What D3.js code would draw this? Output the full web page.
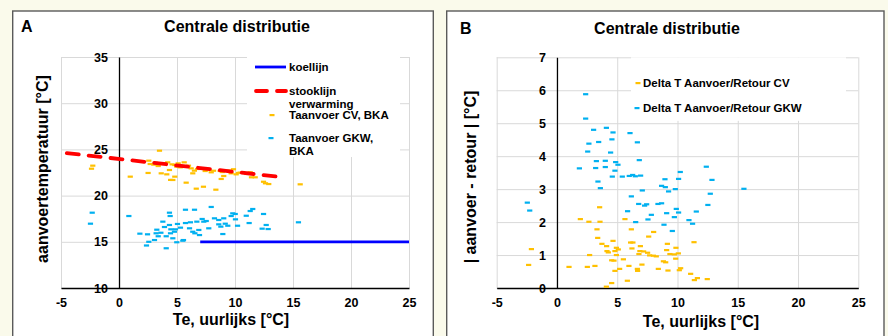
<!DOCTYPE html>
<html>
<head>
<meta charset="utf-8">
<script src="https://cdn.jsdelivr.net/npm/d3@7"></script>
<style>
    body { margin: 0; background: #fafaeb; }
    svg { display: block; font-family: "Liberation Sans", Arial, sans-serif; font-weight: bold; }
    .grid line { stroke: #d9d9d9; stroke-width: 1; }
    .grid path { display: none; }
    .axis path { stroke: #000; stroke-width: 1.3; }
    .axis text { font-size: 12.5px; font-weight: bold; fill: #000; font-family: "Liberation Sans", Arial, sans-serif; }
</style>
</head>
<body>
<div id="chart"></div>
<script>
// x ticks (Te, hourly) shared by both panels
var xTicks = [-5, 0, 5, 10, 15, 20, 25];
var yTicksA = [10, 15, 20, 25, 30, 35];
var yTicksB = [0, 1, 2, 3, 4, 5, 6, 7];

// panel A: supply temperature vs outdoor temperature
var koellijn = [[7, 15], [25, 15]];
var stooklijn = [[-4.5, 24.6], [14, 22.0]];

var aanvoerCV = [
    [-2.26, 23.24], [-2.37, 22.91], [0.97, 22.05], [1.88, 23.74], [2.57, 23.78], [2.69, 23.42],
    [2.51, 22.45], [3.12, 23.56], [3.38, 23.20], [3.49, 24.86], [3.64, 23.49], [3.64, 22.41],
    [4.12, 22.30], [4.35, 22.77], [4.58, 23.38], [4.81, 23.31], [4.98, 23.13], [4.81, 22.05],
    [4.64, 21.69], [4.45, 21.70], [5.10, 23.49], [5.28, 23.06], [5.62, 23.60], [5.79, 21.40],
    [5.99, 23.24], [6.22, 22.95], [6.36, 22.41], [6.66, 20.75], [7.28, 20.96], [6.77, 22.88],
    [7.09, 22.95], [7.43, 22.66], [7.72, 22.85], [7.95, 22.52], [8.35, 20.64], [8.15, 22.69],
    [8.72, 22.66], [8.81, 21.80], [9.03, 22.12], [9.29, 22.69], [9.67, 22.41], [9.87, 22.85],
    [10.10, 22.30], [10.45, 22.48], [11.02, 22.34], [11.31, 22.52], [11.42, 21.98], [11.74, 21.98],
    [12.46, 21.50], [12.63, 21.33], [12.91, 21.25], [15.62, 21.22], [3.0, 23.35], [4.2, 23.6],
    [5.4, 23.2], [6.5, 22.7], [8.9, 22.55], [9.5, 22.7], [10.3, 22.45]
];

var aanvoerGKW = [
    [-2.31, 18.15], [-2.46, 16.96], [0.85, 17.79], [1.80, 15.88], [2.46, 15.81], [2.37, 14.60],
    [2.57, 15.00], [3.06, 15.19], [3.20, 15.92], [3.26, 16.31], [3.38, 15.60], [3.61, 15.98],
    [3.78, 17.18], [3.92, 16.60], [4.07, 15.60], [4.07, 14.30], [4.35, 18.15], [4.41, 17.79],
    [4.35, 16.82], [4.47, 16.35], [4.44, 15.92], [4.64, 15.38], [4.78, 16.09], [4.87, 16.35],
    [5.04, 16.93], [4.98, 14.95], [5.30, 16.53], [5.56, 15.19], [5.73, 18.47], [5.73, 17.03],
    [6.08, 16.46], [6.16, 17.11], [6.36, 16.09], [6.51, 18.47], [6.54, 15.92], [6.71, 17.18],
    [6.88, 16.28], [6.94, 15.73], [7.17, 17.47], [7.31, 17.18], [7.52, 17.25], [7.74, 16.46],
    [7.95, 18.77], [8.23, 17.54], [8.60, 16.89], [8.60, 17.36], [8.78, 16.64], [8.95, 15.84],
    [9.03, 17.54], [9.16, 16.96], [9.38, 16.74], [9.67, 17.79], [9.81, 18.08], [10.02, 18.01],
    [10.04, 17.43], [10.22, 16.74], [10.97, 17.82], [11.22, 17.03], [11.31, 18.33], [11.53, 18.55],
    [12.46, 18.01], [12.34, 16.42], [12.69, 16.82], [12.86, 16.38], [15.47, 17.11], [5.5, 15.12]
];

// panel B: |supply - return| vs outdoor temperature
var deltaCV = [
    [3.54, 2.45], [1.94, 2.09], [2.65, 2.01], [3.57, 2.01], [5.64, 2.09], [3.32, 1.78],
    [6.17, 1.78], [8.02, 1.70], [3.38, 1.52], [7.61, 1.56], [3.73, 1.34], [4.65, 1.43],
    [4.12, 1.27], [6.30, 1.38], [6.11, 1.38], [6.92, 1.27], [9.16, 1.34], [-2.12, 1.18],
    [4.15, 1.12], [4.26, 1.08], [4.81, 1.12], [4.93, 1.22], [5.09, 1.17], [6.22, 1.20],
    [6.88, 1.12], [7.19, 1.11], [7.52, 1.07], [7.69, 0.99], [8.00, 0.98], [8.24, 0.96],
    [9.10, 1.15], [9.87, 1.22], [9.37, 1.03], [9.74, 1.02], [10.07, 1.05], [9.85, 0.89],
    [6.80, 1.03], [2.71, 1.00], [4.93, 1.00], [-2.35, 0.70], [4.54, 0.84], [4.73, 0.83],
    [5.51, 0.87], [8.83, 0.81], [9.02, 0.78], [1.00, 0.64], [2.52, 0.64], [3.15, 0.67],
    [5.97, 0.67], [7.05, 0.71], [8.41, 0.58], [9.21, 0.53], [5.20, 0.58], [4.81, 0.52],
    [6.67, 0.58], [6.69, 0.52], [10.15, 0.54], [10.26, 0.60], [5.84, 0.22], [4.54, 0.15],
    [4.10, 0.04], [11.37, 1.39], [11.09, 0.43], [11.65, 0.30], [11.40, 0.24], [12.47, 0.27]
];

var deltaGKW = [
    [2.38, 5.88], [2.38, 5.14], [3.04, 4.80], [4.10, 4.86], [4.65, 4.72], [6.06, 4.70],
    [2.65, 4.38], [3.46, 4.43], [4.56, 4.51], [6.67, 4.42], [2.55, 4.14], [4.45, 4.11],
    [3.27, 3.85], [4.01, 3.86], [4.87, 3.82], [5.06, 3.74], [6.83, 3.88], [1.86, 3.63],
    [3.21, 3.64], [4.01, 3.67], [4.81, 3.56], [4.59, 3.38], [5.42, 3.38], [6.00, 3.40],
    [6.28, 3.43], [6.50, 3.39], [6.94, 3.41], [10.23, 3.52], [3.40, 3.23], [3.60, 3.03],
    [7.08, 2.96], [8.96, 3.30], [10.09, 3.31], [8.68, 3.10], [8.99, 3.06], [9.26, 2.93],
    [9.82, 3.00], [6.17, 2.78], [-2.46, 2.59], [-2.26, 2.35], [5.86, 2.33], [6.78, 2.55],
    [7.27, 2.50], [7.44, 2.54], [8.38, 2.55], [8.68, 2.57], [7.83, 2.22], [7.55, 2.08],
    [9.10, 2.27], [9.90, 2.40], [10.09, 2.29], [9.74, 2.15], [6.53, 2.00], [8.88, 1.92],
    [9.57, 1.73], [10.95, 2.06], [11.25, 1.95], [12.39, 3.68], [12.86, 3.28], [15.51, 3.01],
    [12.72, 2.86], [12.52, 2.52], [11.56, 2.32]
];

var orange = '#ffc000';
var blue = '#00b0f0';
var plain = function (d) { return String(d); };

var svg = d3.select('#chart').append('svg')
    .attr('width', 888)
    .attr('height', 336);

// panel frames
svg.append('rect').attr('x', 12.7).attr('y', 11).attr('width', 420.6).attr('height', 340)
    .attr('fill', '#fff').attr('stroke', '#5a5a5a').attr('stroke-width', 1.4);
svg.append('rect').attr('x', 446.7).attr('y', 11).attr('width', 437.3).attr('height', 340)
    .attr('fill', '#fff').attr('stroke', '#5a5a5a').attr('stroke-width', 1.4);

function drawPanel(cfg) {
    var x = d3.scaleLinear().domain([-5, 25]).range([cfg.left, cfg.right]);
    var y = d3.scaleLinear().domain(cfg.yDomain).range([cfg.bottom, cfg.top]);
    var g = svg.append('g');

    // gridlines
    g.append('g').attr('class', 'grid')
        .attr('transform', 'translate(0,' + cfg.bottom + ')')
        .call(d3.axisBottom(x).tickValues(xTicks).tickSize(-(cfg.bottom - cfg.top)).tickFormat(''));
    g.append('g').attr('class', 'grid')
        .attr('transform', 'translate(' + cfg.left + ',0)')
        .call(d3.axisLeft(y).tickValues(cfg.yTicks).tickSize(-(cfg.right - cfg.left)).tickFormat(''));

    // legend background hides the grid
    g.append('rect')
        .attr('x', cfg.legend.x).attr('y', cfg.legend.y)
        .attr('width', cfg.legend.w).attr('height', cfg.legend.h)
        .attr('fill', '#fff');

    // axes crossing at x = 0
    g.append('g').attr('class', 'axis')
        .attr('transform', 'translate(' + x(0) + ',0)')
        .call(d3.axisLeft(y).tickValues(cfg.yTicks).tickFormat(plain)
            .tickSize(0).tickSizeOuter(0).tickPadding(11));
    g.append('g').attr('class', 'axis')
        .attr('transform', 'translate(0,' + cfg.bottom + ')')
        .call(d3.axisBottom(x).tickValues(xTicks).tickFormat(plain)
            .tickSize(0).tickSizeOuter(0).tickPadding(10.5));

    // titles
    g.append('text').attr('x', cfg.letterX).attr('y', cfg.titleY)
        .style('font-size', '16px').text(cfg.letter);
    g.append('text').attr('x', cfg.titleX).attr('y', cfg.titleY)
        .attr('text-anchor', 'middle').style('font-size', '16px').text('Centrale distributie');
    g.append('text').attr('x', cfg.xLabelX).attr('y', cfg.xLabelY)
        .attr('text-anchor', 'middle').style('font-size', '16px').text('Te, uurlijks [°C]');
    g.append('text')
        .attr('transform', 'translate(' + cfg.yLabelX + ',' + cfg.yLabelY + ') rotate(-90)')
        .attr('text-anchor', 'middle').style('font-size', '16px').text(cfg.yLabel);

    return { g: g, x: x, y: y };
}

function dashes(p, data, color) {
    p.g.append('g').selectAll('rect')
        .data(data)
        .enter()
        .append('rect')
        .attr('x', function (d) { return p.x(d[0]) - 2.6; })
        .attr('y', function (d) { return p.y(d[1]) - 1.1; })
        .attr('width', 5.2)
        .attr('height', 2.2)
        .attr('fill', color);
}

function legendText(p, x, y, lines) {
    var t = p.g.append('text').attr('x', x).attr('y', y).style('font-size', '11.5px');
    lines.forEach(function (s, i) {
        t.append('tspan').attr('x', x).attr('dy', i === 0 ? 0 : 13).text(s);
    });
}

// ---- panel A ----
var pA = drawPanel({
    left: 61, right: 409, top: 57, bottom: 288,
    yDomain: [10, 35], yTicks: yTicksA,
    legend: { x: 247, y: 57, w: 153, h: 100 },
    letter: 'A', letterX: 21, titleX: 237, titleY: 31.5,
    xLabelX: 231, xLabelY: 325,
    yLabel: 'aanvoertemperatuur [°C]', yLabelX: 47.5, yLabelY: 169
});

var line = d3.line()
    .x(function (d) { return pA.x(d[0]); })
    .y(function (d) { return pA.y(d[1]); });

pA.g.append('path').datum(koellijn).attr('d', line)
    .attr('fill', 'none').attr('stroke', '#0000ff').attr('stroke-width', 2.8);
dashes(pA, aanvoerCV, orange);
dashes(pA, aanvoerGKW, blue);
pA.g.append('path').datum(stooklijn).attr('d', line)
    .attr('fill', 'none').attr('stroke', '#ff0000').attr('stroke-width', 3.8)
    .attr('stroke-dasharray', '12,10').attr('stroke-linecap', 'round');

// legend A
pA.g.append('line').attr('x1', 255).attr('x2', 286).attr('y1', 67).attr('y2', 67)
    .attr('stroke', '#0000ff').attr('stroke-width', 2.8);
pA.g.append('line').attr('x1', 256).attr('x2', 286).attr('y1', 91).attr('y2', 91)
    .attr('stroke', '#ff0000').attr('stroke-width', 3.8)
    .attr('stroke-dasharray', '11,10').attr('stroke-linecap', 'round');
pA.g.append('rect').attr('x', 269.5).attr('y', 114).attr('width', 5).attr('height', 2.2).attr('fill', orange);
pA.g.append('rect').attr('x', 268.5).attr('y', 137).attr('width', 5).attr('height', 2.2).attr('fill', blue);
legendText(pA, 289, 71, ['koellijn']);
legendText(pA, 289, 95, ['stooklijn', 'verwarming']);
legendText(pA, 289, 119, ['Taanvoer CV, BKA']);
legendText(pA, 289, 142, ['Taanvoer GKW,', 'BKA']);

// ---- panel B ----
var pB = drawPanel({
    left: 496.7, right: 858.3, top: 57.3, bottom: 288,
    yDomain: [0, 7], yTicks: yTicksB,
    legend: { x: 631, y: 57.3, w: 215, h: 63.5 },
    letter: 'B', letterX: 460, titleX: 667, titleY: 34,
    xLabelX: 701, xLabelY: 326.5,
    yLabel: '| aanvoer - retour | [°C]', yLabelX: 476, yLabelY: 177
});

dashes(pB, deltaCV, orange);
dashes(pB, deltaGKW, blue);

// legend B
pB.g.append('rect').attr('x', 635.5).attr('y', 82).attr('width', 5).attr('height', 2.2).attr('fill', orange);
pB.g.append('rect').attr('x', 634.5).attr('y', 107).attr('width', 5).attr('height', 2.2).attr('fill', blue);
legendText(pB, 643, 87, ['Delta T Aanvoer/Retour CV']);
legendText(pB, 643, 112, ['Delta T Aanvoer/Retour GKW']);
</script>
</body>
</html>
